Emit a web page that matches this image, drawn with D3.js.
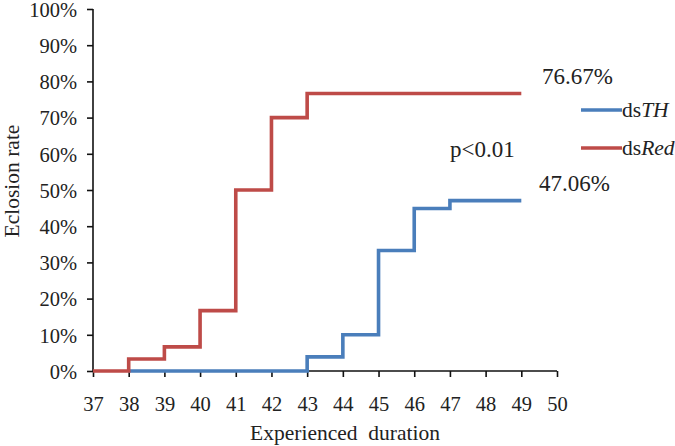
<!DOCTYPE html>
<html>
<head>
<meta charset="utf-8">
<script src="https://cdn.jsdelivr.net/npm/d3@7"></script>
<style>
  html, body { margin: 0; padding: 0; background: #fff; }
  svg { display: block; }
  text { font-family: "Liberation Serif", "Times New Roman", serif; fill: #222; }
</style>
</head>
<body>
<svg id="chart" width="675" height="446"></svg>
<script>
// ---- data ----
const xTicks = [37, 38, 39, 40, 41, 42, 43, 44, 45, 46, 47, 48, 49, 50];
const yTicks = [0, 0.1, 0.2, 0.3, 0.4, 0.5, 0.6, 0.7, 0.8, 0.9, 1.0];
const redDays = [37, 38, 39, 40, 41, 42, 43, 49];
const redRates = [0, 0.0333, 0.0667, 0.1667, 0.50, 0.70, 0.7667, 0.7667];
const blueDays = [38, 43, 44, 45, 46, 47, 49];
const blueRates = [0, 0.039, 0.10, 0.333, 0.449, 0.4706, 0.4706];
const seriesNames = ["ds", "TH", "ds", "Red"];
const endLabels = ["76.67%", "47.06%"];
const pLabel = "p<0.01";
const xTitle = "Experienced\u00a0\u00a0duration";
const yTitle = "Eclosion rate";

const redColor = "#BE4B48";
const blueColor = "#4A7EBB";

const svg = d3.select("#chart");
const x = d3.scaleLinear().domain([37, 50]).range([93, 557]);
const y = d3.scaleLinear().domain([0, 1]).range([371, 9]);

// axes
const xAxis = d3.axisBottom(x).tickValues(xTicks).tickSize(6).tickPadding(8).tickFormat(d3.format("d"));
const yAxis = d3.axisLeft(y).tickValues(yTicks).tickSize(6).tickPadding(10).tickFormat(d3.format(".0%"));

const gx = svg.append("g").attr("transform", `translate(0,${y(0)})`).call(xAxis);
const gy = svg.append("g").attr("transform", `translate(${x(37)},0)`).call(yAxis);
[gx, gy].forEach(g => {
  g.select(".domain").attr("stroke", "#111").attr("stroke-width", 1.6);
  g.selectAll(".tick line").attr("stroke", "#111").attr("stroke-width", 1.6);
  g.selectAll(".tick text").attr("font-family", "Liberation Serif").attr("font-size", 20.5).attr("fill", "#222");
});
gx.select(".domain").attr("d", `M${x(37)},0H${x(50)}`);
gy.select(".domain").attr("d", `M0,${y(1)}V${y(0)}`);
gx.selectAll(".tick text").attr("dy", "0.71em").attr("y", 25);
gy.selectAll(".tick text").attr("dy", "0.36em");

// lines
const line = d3.line().x(d => x(d[0])).y(d => y(d[1])).curve(d3.curveStepAfter);
const redData = redDays.map((d, i) => [d, redRates[i]]);
const blueData = blueDays.map((d, i) => [d, blueRates[i]]);

svg.append("path").datum(blueData).attr("d", line).attr("fill", "none")
  .attr("stroke", blueColor).attr("stroke-width", 3.6);
svg.append("path").datum(redData).attr("d", line).attr("fill", "none")
  .attr("stroke", redColor).attr("stroke-width", 3.6);

// end labels
svg.append("text").attr("x", 542).attr("y", 84).attr("font-size", 23).text(endLabels[0]);
svg.append("text").attr("x", 539).attr("y", 191).attr("font-size", 23).text(endLabels[1]);
svg.append("text").attr("x", 450).attr("y", 157).attr("font-size", 23).text(pLabel);

// legend
const legend = [
  { color: blueColor, y: 110, base: seriesNames[0], ital: seriesNames[1] },
  { color: redColor, y: 148, base: seriesNames[2], ital: seriesNames[3] }
];
legend.forEach(l => {
  svg.append("line").attr("x1", 581).attr("x2", 622).attr("y1", l.y).attr("y2", l.y)
    .attr("stroke", l.color).attr("stroke-width", 3.6);
  const t = svg.append("text").attr("x", 622).attr("y", l.y + 7).attr("font-size", 21.5);
  t.append("tspan").text(l.base);
  t.append("tspan").attr("font-style", "italic").text(l.ital);
});

// axis titles
svg.append("text").attr("x", 345).attr("y", 440).attr("text-anchor", "middle")
  .attr("font-size", 21.5).text(xTitle);
svg.append("text").attr("transform", "translate(19,181) rotate(-90)").attr("text-anchor", "middle")
  .attr("font-size", 21.5).text(yTitle);
</script>
</body>
</html>
